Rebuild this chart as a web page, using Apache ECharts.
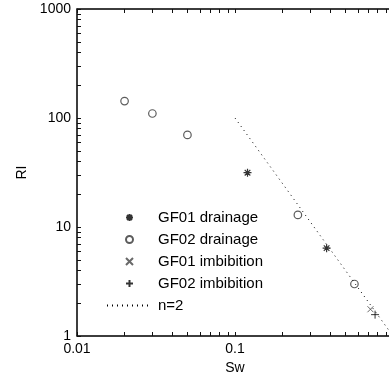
<!DOCTYPE html>
<html>
<head>
<meta charset="utf-8">
<script src="https://cdn.jsdelivr.net/npm/echarts@6/dist/echarts.min.js"></script>
<style>
  html, body { margin: 0; padding: 0; background: #fff; }
  #chart { width: 389px; height: 379px; }
</style>
</head>
<body>
<div id="chart"></div>
<script>
// RI vs Sw data
const gf01DrainSw = [0.12, 0.38];
const gf01DrainRI = [31.5, 6.4];
const gf02DrainSw = [0.02, 0.03, 0.05, 0.25, 0.57];
const gf02DrainRI = [143, 110, 70, 12.9, 3.0];
const gf01ImbSw = [0.72];
const gf01ImbRI = [1.76];
const gf02ImbSw = [0.77];
const gf02ImbRI = [1.57];
const n2Sw = [0.1, 1];
const n2RI = [100, 1];

// tick positions (major + minor) for log axes
const xTicks = [0.01, 0.02, 0.03, 0.04, 0.05, 0.06, 0.07, 0.08, 0.09,
  0.1, 0.2, 0.3, 0.4, 0.5, 0.6, 0.7, 0.8, 0.9, 1];
const yTicks = [1, 2, 3, 4, 5, 6, 7, 8, 9, 10, 20, 30, 40, 50, 60, 70, 80, 90,
  100, 200, 300, 400, 500, 600, 700, 800, 900, 1000];

const FONT = 'Liberation Sans, Arial, sans-serif';
const AXIS = '#222';

const pair = (xs, ys) => xs.map((x, i) => [x, ys[i]]);
const plain = v => String(+(+v).toPrecision(6));

const SYM = {
  star: 'path://M0,5L10,5M5,0L5,10M1.5,1.5L8.5,8.5M8.5,1.5L1.5,8.5',
  cross: 'path://M0,0L10,10M10,0L0,10',
  plus: 'path://M0,5L10,5M5,0L5,10'
};

const chart = echarts.init(document.getElementById('chart'));

const tickStyle = ticks => ({
  show: true,
  inside: true,
  length: 4,
  interval: 0,
  customValues: ticks,
  lineStyle: { color: '#111', width: 1 }
});

const lineStyle = () => ({ show: true, onZero: false, lineStyle: { color: AXIS, width: 1.5 } });

const option = {
  animation: false,
  textStyle: { fontFamily: FONT },
  grid: {
    left: 77, top: 9, width: 316, height: 327,
    outerBoundsMode: 'none', containLabel: false,
    show: true, borderColor: AXIS, borderWidth: 1, backgroundColor: 'transparent'
  },
  legend: {
    orient: 'vertical',
    left: 106,
    top: 210,
    padding: 0,
    itemWidth: 45,
    itemHeight: 7,
    itemGap: 7,
    textStyle: { fontFamily: FONT, fontSize: 15, color: '#000', lineHeight: 15, padding: [0, 0, 0, 1] },
    data: ['GF01 drainage', 'GF02 drainage', 'GF01 imbibition', 'GF02 imbibition', 'n=2']
  },
  xAxis: [
    {
      type: 'log',
      logBase: 10,
      min: 0.01,
      max: 1,
      position: 'bottom',
      name: 'Sw',
      nameLocation: 'middle',
      nameGap: 22,
      nameTextStyle: { fontFamily: FONT, fontSize: 14, color: '#000' },
      splitLine: { show: false },
      axisLine: lineStyle(),
      axisTick: tickStyle(xTicks),
      axisLabel: { fontFamily: FONT, fontSize: 14, color: '#000', margin: 6, formatter: plain }
    },
    {
      type: 'log',
      logBase: 10,
      min: 0.01,
      max: 1,
      position: 'top',
      splitLine: { show: false },
      axisLine: lineStyle(),
      axisTick: tickStyle(xTicks),
      axisLabel: { show: false }
    }
  ],
  yAxis: {
    type: 'log',
    logBase: 10,
    min: 1,
    max: 1000,
    name: 'RI',
    nameLocation: 'middle',
    nameGap: 48,
    nameRotate: 90,
    nameTextStyle: { fontFamily: FONT, fontSize: 14, color: '#000' },
    splitLine: { show: false },
    axisLine: lineStyle(),
    axisTick: tickStyle(yTicks),
    axisLabel: { fontFamily: FONT, fontSize: 14, color: '#000', margin: 6, formatter: plain }
  },
  series: [
    {
      name: 'GF01 drainage',
      type: 'scatter',
      symbol: SYM.star,
      symbolSize: 8,
      itemStyle: { color: 'none', borderColor: '#000', borderWidth: 1.2 },
      data: pair(gf01DrainSw, gf01DrainRI)
    },
    {
      name: 'GF02 drainage',
      type: 'scatter',
      symbol: 'circle',
      symbolSize: 7.5,
      itemStyle: { color: 'none', borderColor: '#333', borderWidth: 1.2 },
      data: pair(gf02DrainSw, gf02DrainRI)
    },
    {
      name: 'GF01 imbibition',
      type: 'scatter',
      symbol: SYM.cross,
      symbolSize: 6,
      itemStyle: { color: 'none', borderColor: '#444', borderWidth: 1 },
      data: pair(gf01ImbSw, gf01ImbRI)
    },
    {
      name: 'GF02 imbibition',
      type: 'scatter',
      symbol: SYM.plus,
      symbolSize: 8,
      itemStyle: { color: 'none', borderColor: '#000', borderWidth: 1 },
      data: pair(gf02ImbSw, gf02ImbRI)
    },
    {
      name: 'n=2',
      type: 'line',
      symbol: 'none',
      itemStyle: { color: 'rgba(0,0,0,0)', borderWidth: 0 },
      lineStyle: { color: '#000', width: 1, type: [1, 4] },
      data: pair(n2Sw, n2RI)
    }
  ]
};

chart.setOption(option);
</script>
</body>
</html>
